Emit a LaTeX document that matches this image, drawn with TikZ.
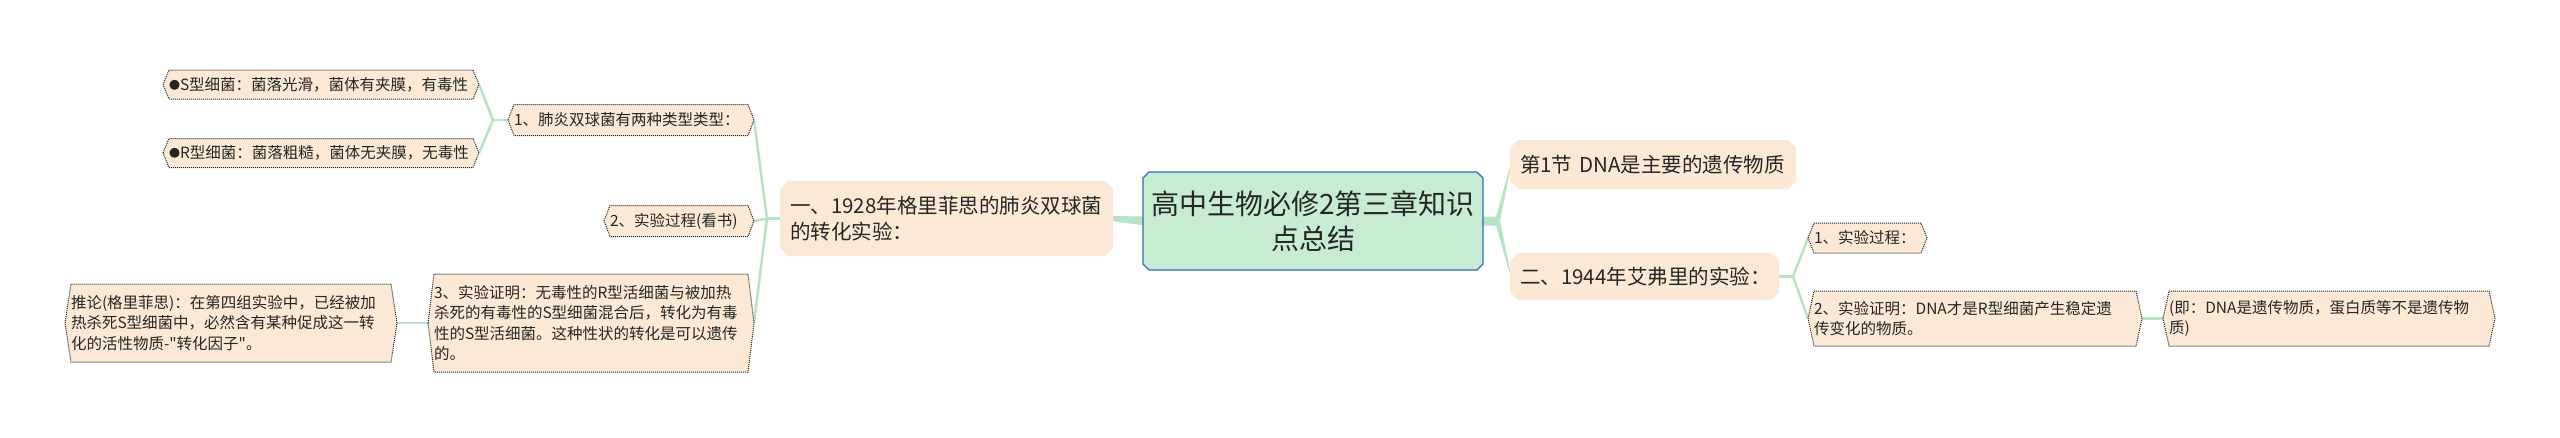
\documentclass[tikz,border=0pt]{standalone}
\usepackage{fontspec}
\setmainfont{Noto Sans CJK SC}[Ligatures=TeXOff]
\usetikzlibrary{backgrounds,calc}
\definecolor{peach}{HTML}{FCE9D5}
\definecolor{rootfill}{HTML}{C7ECD2}
\definecolor{rootline}{HTML}{2F6EBA}
\definecolor{linkc}{HTML}{B7E3C5}
\definecolor{dotc}{HTML}{222222}
\newcommand\hexleaf[1]{\path[leafshape] (#1.west) -- ([xshift=6pt]#1.north west) -- ([xshift=-6pt]#1.north east) -- (#1.east) -- ([xshift=-6pt]#1.south east) -- ([xshift=6pt]#1.south west) -- cycle;}
\newcommand\chamfbox[3]{\path[#3] ([xshift=#2]#1.north west) -- ([xshift=-#2]#1.north east) -- ([yshift=-#2]#1.north east) -- ([yshift=#2]#1.south east) -- ([xshift=-#2]#1.south east) -- ([xshift=#2]#1.south west) -- ([yshift=#2]#1.south west) -- ([yshift=-#2]#1.north west) -- cycle;}
\newcommand\smallbullet{\raisebox{1pt}{\fontsize{11}{11}\selectfont ●}}
\begin{document}
\begin{tikzpicture}[x=1pt,y=-1pt,
 every node/.style={outer sep=0pt, inner ysep=0pt, text=black!85},
 leaf/.style={font=\fontsize{15.5}{20.5}\selectfont, inner xsep=6pt, align=left},
 mid/.style={font=\fontsize{20.5}{26}\selectfont, inner xsep=10pt, align=left},
 rootnode/.style={font=\fontsize{28}{35}\selectfont, align=center, inner xsep=8pt},
 leafshape/.style={fill=peach, draw=dotc, densely dotted, line width=1pt},
 midshape/.style={fill=peach},
 rootshape/.style={fill=rootfill, draw=rootline, line width=1.3pt},
 conn/.style={draw=linkc, line width=2.5pt},
]
\useasboundingbox (0,0) rectangle (2560,437);
% nodes
\node[rootnode, text width=324pt, minimum height=98pt] (root) at (1313,221) {高中生物必修2第三章知识\\点总结};
\node[mid, text width=313pt, minimum height=75pt] (L1) at (946.5,218.5) {一、1928年格里菲思的肺炎双球菌\\的转化实验：};
\node[mid, text width=266pt, minimum height=49pt] (B1) at (1653,164.5) {第1节 DNA是主要的遗传物质};
\node[mid, text width=249pt, minimum height=47pt] (B2) at (1644.5,276.5) {二、1944年艾弗里的实验：};
\node[leaf, text width=304pt, minimum height=29pt] (S) at (321,84.5) {\smallbullet S型细菌：菌落光滑，菌体有夹膜，有毒性};
\node[leaf, text width=304pt, minimum height=29pt] (R) at (321,153) {\smallbullet R型细菌：菌落粗糙，菌体无夹膜，无毒性};
\node[leaf, text width=234pt, minimum height=31pt] (P1) at (631,120) {1、肺炎双球菌有两种类型类型：};
\node[leaf, text width=138pt, minimum height=31pt] (P2) at (679,221) {2、实验过程(看书)};
\node[leaf, text width=314pt, minimum height=98pt] (P3) at (591,323) {3、实验证明：无毒性的R型活细菌与被加热\\杀死的有毒性的S型细菌混合后，转化为有毒\\性的S型活细菌。这种性状的转化是可以遗传\\的。};
\node[leaf, text width=320pt, minimum height=78pt] (T) at (231,323) {推论(格里菲思)：在第四组实验中，已经被加\\热杀死S型细菌中，必然含有某种促成这一转\\化的活性物质-"转化因子"。};
\node[leaf, text width=107pt, minimum height=30pt] (Q1) at (1867.5,238) {1、实验过程：};
\node[leaf, text width=322pt, minimum height=55pt] (Q2) at (1975,318.5) {2、实验证明：DNA才是R型细菌产生稳定遗\\传变化的物质。};
\node[leaf, text width=320pt, minimum height=55pt] (Q3) at (2329,318.5) {(即：DNA是遗传物质，蛋白质等不是遗传物\\质)};
\coordinate (J1) at ($(L1.west)+(-13,0)$);
\coordinate (J2) at ($(P1.west)+(-15,0)$);
\coordinate (J3) at ($(B2.east)+(14,0)$);
\coordinate (RJ) at ($(root.east)+(13,0)$);
\begin{pgfonlayer}{background}
\fill[white] (0,0) rectangle (2560,437);
% connectors
\fill[linkc] ($(root.east)+(0,-4.5)$) -- ($(RJ)+(0,-4.5)$) -- ($(B1.west)+(1,-1.5)$) -- ($(B1.west)+(1,1.5)$) -- ($(RJ)+(4,0)$) -- ($(B2.west)+(1,-1.5)$) -- ($(B2.west)+(1,1.5)$) -- ($(RJ)+(0,4.5)$) -- ($(root.east)+(0,4.5)$) -- cycle;
\fill[linkc] ($(root.west)+(1,-4.5)$) -- ($(L1.east)+(-1,-2.5)$) -- ($(L1.east)+(-1,2.5)$) -- ($(root.west)+(1,4.5)$) -- cycle;
\draw[conn] (L1.west) -- (J1);
\draw[conn] (J1) -- (P1.east);
\draw[conn] (J1) -- (P2.east);
\draw[conn] (J1) -- (P3.east);
\draw[conn] (P1.west) -- (J2);
\draw[conn] (J2) -- (S.east);
\draw[conn] (J2) -- (R.east);
\draw[conn] (P3.west) -- (T.east);
\draw[conn] (B2.east) -- (J3);
\draw[conn] (J3) -- (Q1.west);
\draw[conn] (J3) -- (Q2.west);
\draw[conn] (Q2.east) -- (Q3.west);
% shapes
\chamfbox{root}{6pt}{rootshape}
\chamfbox{L1}{8pt}{midshape}
\chamfbox{B1}{8pt}{midshape}
\chamfbox{B2}{8pt}{midshape}
\hexleaf{S}\hexleaf{R}\hexleaf{P1}\hexleaf{P2}\hexleaf{P3}\hexleaf{T}
\hexleaf{Q1}\hexleaf{Q2}\hexleaf{Q3}
\end{pgfonlayer}
\end{tikzpicture}
\end{document}
